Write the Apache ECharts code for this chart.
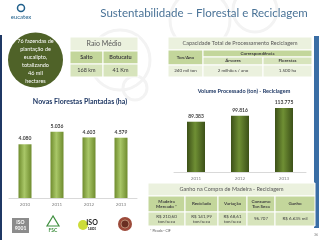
<!DOCTYPE html>
<html><head><meta charset="utf-8">
<script src="https://cdn.jsdelivr.net/npm/echarts@6/dist/echarts.min.js"></script>
<style>html,body{margin:0;padding:0;background:#fff}#c{width:320px;height:240px}</style>
</head><body><div id="c"></div>
<script>
var forestYears = ['2010','2011','2012','2013'];
var forestHa = [4080, 5036, 4603, 4579];
var recycleYears = ['2011','2012','2013'];
var recycleTon = [89383, 99816, 113775];
var circleLines = ['76 fazendas de','plantação de','eucalipto,','totalizando','46 mil','hectares'];
var raioHeader = ['Salto','Botucatu'];
var raioValues = ['168 km','41 Km'];
var capRow = ['240 mil ton','2 milhões / ano','1.500 ha'];
var ganhoHeader = ['Madeira\nMercado *','Reciclado','Variação','Consumo\nTon Seca','Ganho'];
var ganhoValues = ['R$ 210,60\nton/seca','R$ 141,99\nton/seca','R$ 68,61\nton/seca','96.707','R$ 6.635 mil'];

var F = 'Lato, "Open Sans", sans-serif';
function fmt(v){return String(v).replace(/\B(?=(\d{3})+(?!\d))/g,'.');}
function cell(x,y,w,h,fill,txt,fs,fw,col){
  return [{type:'rect',shape:{x:x,y:y,width:w,height:h},style:{fill:fill,stroke:'#ffffff',lineWidth:1}},
          {type:'text',style:{x:x+w/2,y:y+h/2,text:txt,font:fw+' '+fs+'px '+F,fill:col||'#404040',
            textAlign:'center',textVerticalAlign:'middle',align:'center',verticalAlign:'middle',lineHeight:fs+1}}];
}
var PALE='#ebf1de', MID='#d7e4bc', DARK='#c3d69b';
var g = [];
[[135,88,12],[200,20,30],[255,10,22],[120,60,30]].forEach(function(r){
  g.push({type:'circle',z:-10,shape:{cx:r[0],cy:r[1],r:r[2]},style:{fill:'none',stroke:'#f3f3f3',lineWidth:3}});
});
g.push({type:'rect',shape:{x:0,y:35,width:2,height:205},style:{fill:'#1f3864'}});
g.push({type:'rect',shape:{x:314,y:36,width:5,height:192},style:{fill:'#3a6ea5'}});
g.push({type:'circle',shape:{cx:21,cy:8,r:3.5},style:{fill:'none',stroke:'#1f5f8b',lineWidth:1.5}});
g.push({type:'text',style:{x:21,y:17,text:'eucatex',font:'6px '+F,fill:'#1f5f8b',textAlign:'center',textVerticalAlign:'middle',align:'center',verticalAlign:'middle'}});
g.push({type:'text',style:{x:204,y:13,text:'Sustentabilidade – Florestal e Reciclagem',font:'11.5px '+F,fill:'#4a7397',textAlign:'center',textVerticalAlign:'middle',align:'center',verticalAlign:'middle'}});
g.push({type:'circle',shape:{cx:35.5,cy:60,r:27.5},style:{fill:'#4f6228'}});
g.push({type:'text',style:{x:35.5,y:61,text:circleLines.join('\n'),font:'5.5px '+F,fill:'#ffffff',lineHeight:8,textAlign:'center',textVerticalAlign:'middle',align:'center',verticalAlign:'middle'}});
g = g.concat(cell(70,37,68,14,PALE,'Raio Médio',7,'normal','#595959'));
g = g.concat(cell(70,51,33,13,DARK,raioHeader[0],5.5,'bold'));
g = g.concat(cell(103,51,35,13,DARK,raioHeader[1],5.5,'bold'));
g = g.concat(cell(70,64,33,13,MID,raioValues[0],5.5,'normal'));
g = g.concat(cell(103,64,35,13,MID,raioValues[1],5.5,'normal'));
g = g.concat(cell(168,37,144,13,PALE,'Capacidade Total de Processamento Reciclagem',5.5,'normal','#595959'));
g = g.concat(cell(168,50,35,15,DARK,'Ton/Ano',4.5,'bold'));
g = g.concat(cell(203,50,109,7,DARK,'Correspondência',4.5,'bold'));
g = g.concat(cell(203,57,60,8,MID,'Árvores',4.5,'bold'));
g = g.concat(cell(263,57,49,8,MID,'Florestas',4.5,'bold'));
g = g.concat(cell(168,65,35,12,PALE,capRow[0],4.5,'normal'));
g = g.concat(cell(203,65,60,12,PALE,capRow[1],4.5,'normal'));
g = g.concat(cell(263,65,49,12,PALE,capRow[2],4.5,'normal'));
g.push({type:'text',style:{x:80,y:102,text:'Novas Florestas Plantadas (ha)',font:'bold 7px '+F,fill:'#1f3864',textAlign:'center',textVerticalAlign:'middle',align:'center',verticalAlign:'middle'}});
g.push({type:'text',style:{x:244,y:91,text:'Volume Processado (ton) - Reciclagem',font:'bold 5.5px '+F,fill:'#1f3864',textAlign:'center',textVerticalAlign:'middle',align:'center',verticalAlign:'middle'}});
g = g.concat(cell(148,183,167,13,PALE,'Ganho na Compra de Madeira - Reciclagem',5.5,'normal','#595959'));
var gx=[148,185,218,247,275,315];
for(var i=0;i<5;i++){
  g = g.concat(cell(gx[i],196,gx[i+1]-gx[i],16,DARK,ganhoHeader[i],4.5,'bold'));
  g = g.concat(cell(gx[i],212,gx[i+1]-gx[i],14,MID,ganhoValues[i],4.5,'normal'));
}
g.push({type:'text',style:{x:150,y:231,text:'* Picada - CIF',font:'3.5px '+F,fill:'#595959',textVerticalAlign:'middle',verticalAlign:'middle'}});
g.push({type:'text',style:{x:316,y:235,text:'36',font:'3.5px '+F,fill:'#7f7f7f',textAlign:'center',align:'center',textVerticalAlign:'middle',verticalAlign:'middle'}});
g.push({type:'rect',shape:{x:12,y:218,width:17,height:15},style:{fill:'#8c8c8c'}});
g.push({type:'text',style:{x:20.5,y:225.5,text:'ISO\n9001',font:'bold 5px '+F,fill:'#ffffff',lineHeight:6,textAlign:'center',align:'center',textVerticalAlign:'middle',verticalAlign:'middle'}});
g.push({type:'polygon',shape:{points:[[53,216],[47,226],[59,226]]},style:{fill:'none',stroke:'#3f8f3f',lineWidth:1.2}});
g.push({type:'text',style:{x:53,y:230,text:'FSC',font:'bold 5px '+F,fill:'#3f8f3f',textAlign:'center',align:'center',textVerticalAlign:'middle',verticalAlign:'middle'}});
g.push({type:'circle',shape:{cx:83,cy:225,r:5},style:{fill:'#cddc39'}});
g.push({type:'text',style:{x:92,y:223,text:'ISO',font:'bold 7px '+F,fill:'#222',textAlign:'center',align:'center',textVerticalAlign:'middle',verticalAlign:'middle'}});
g.push({type:'text',style:{x:92,y:229,text:'14001',font:'bold 3px '+F,fill:'#222',textAlign:'center',align:'center',textVerticalAlign:'middle',verticalAlign:'middle'}});
g.push({type:'circle',shape:{cx:125,cy:224,r:7},style:{fill:'#9c4a3a'}});
g.push({type:'circle',shape:{cx:125,cy:224,r:4},style:{fill:'#6b2f22',stroke:'#e0c0a0',lineWidth:0.6}});

function grad(a,b){return {type:'linear',x:0,y:0,x2:1,y2:0,colorStops:[{offset:0,color:a},{offset:0.45,color:b},{offset:1,color:a}]};}
var lbl = {show:true,position:'top',distance:3,fontSize:5,fontWeight:'bold',color:'#404040',fontFamily:F,formatter:function(p){return fmt(p.value);}};
var xAx = function(gi,cats){return {type:'category',gridIndex:gi,data:cats,axisTick:{show:false},axisLine:{lineStyle:{color:'#d9d9d9',width:1}},axisLabel:{fontSize:4.5,color:'#7f7f7f',margin:4,fontFamily:F}};};
var chart = echarts.init(document.getElementById('c'),null,{renderer:'canvas'});
chart.setOption({
  animation:false,
  grid:[{left:9,width:128,top:119,height:79},{left:174,width:132,top:104.5,height:67.5}],
  xAxis:[xAx(0,forestYears),xAx(1,recycleYears)],
  yAxis:[{type:'value',gridIndex:0,min:0,max:6000,show:false},{type:'value',gridIndex:1,min:0,max:120000,show:false}],
  series:[
    {type:'bar',xAxisIndex:0,yAxisIndex:0,data:forestHa,barWidth:13,itemStyle:{color:grad('#6f8c2e','#a9c768')},label:lbl},
    {type:'bar',xAxisIndex:1,yAxisIndex:1,data:recycleTon,barWidth:18,itemStyle:{color:grad('#3c5018','#6f8f34')},label:lbl}
  ],
  graphic:g
});
</script></body></html>
